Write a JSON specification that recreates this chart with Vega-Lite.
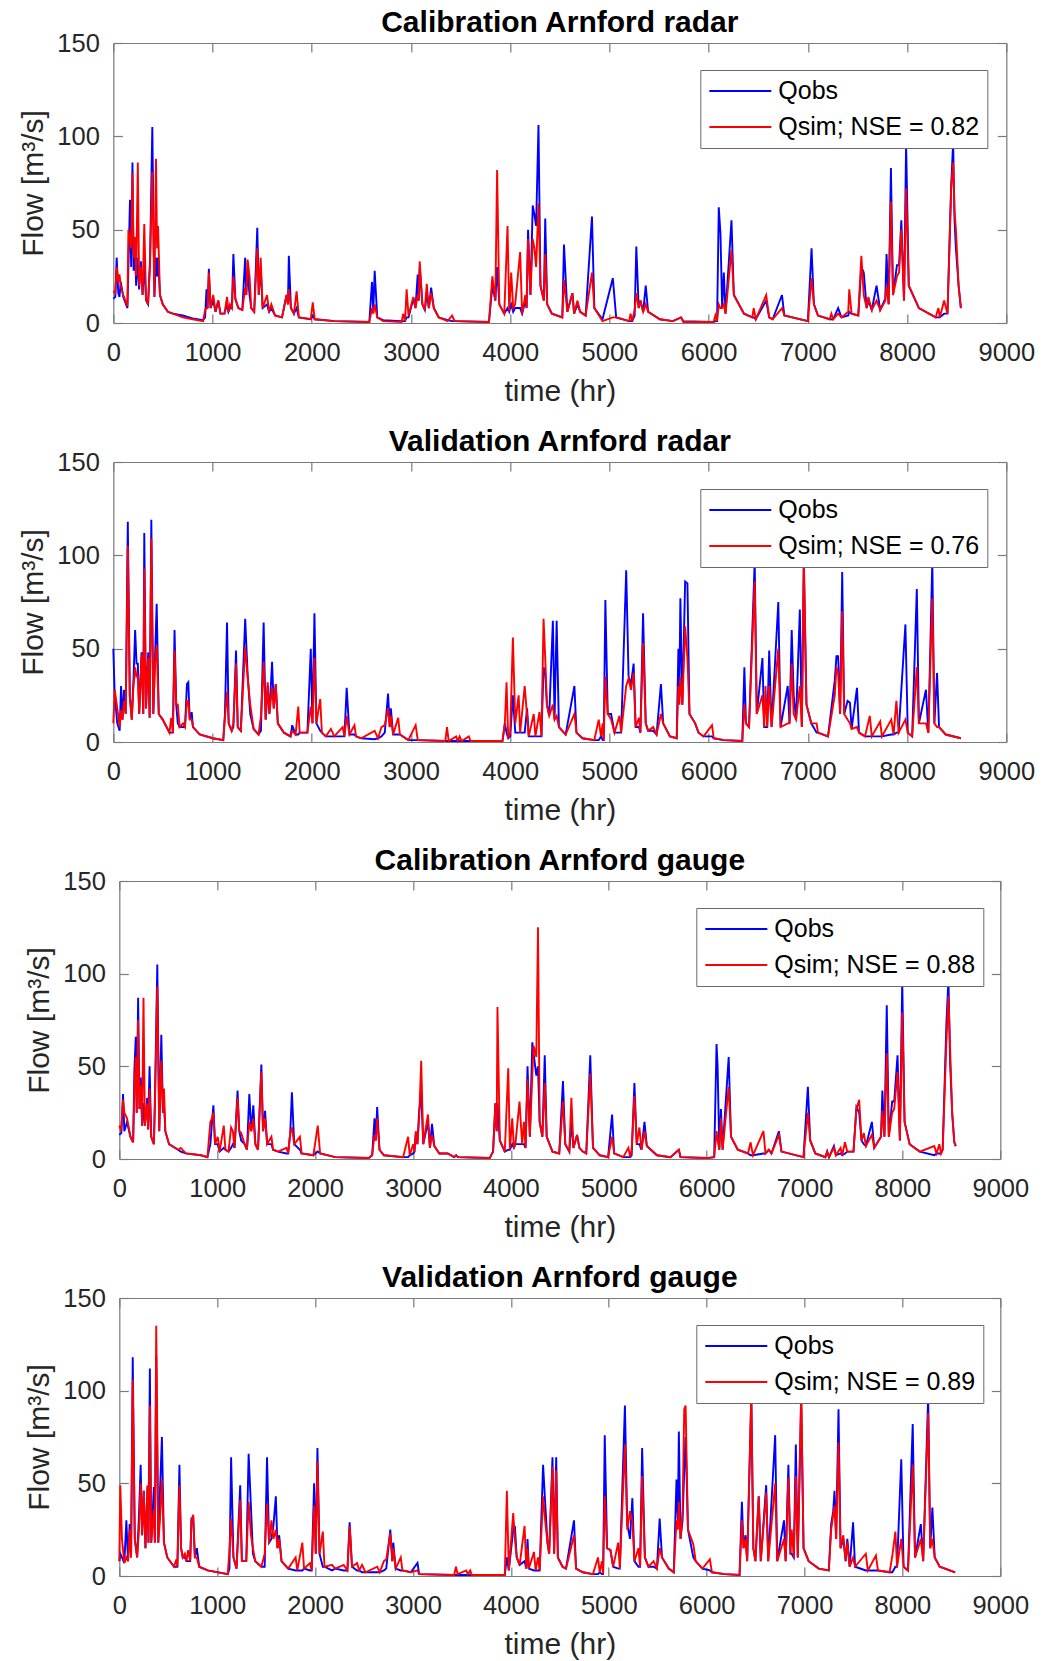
{
"$schema": "https://vega.github.io/schema/vega-lite/v6.json",
"padding": {"left": 18, "top": 8, "right": 5, "bottom": 5},
"spacing": 20,
"center": true,
"resolve": {"scale": {"color": "independent"}},
"datasets": {
"cr": [
{"t":0,"o":13,"s":17},{"t":20,"o":14,"s":16},{"t":34,"o":35,"s":30},{"t":50,"o":16,"s":22},{"t":62,"o":14,"s":26},{"t":75,"o":22,"s":20},{"t":100,"o":14,"s":15},{"t":142,"o":8,"s":9},{"t":152,"o":30,"s":50},{"t":168,"o":66,"s":45},{"t":180,"o":30,"s":40},{"t":193,"o":86,"s":80},{"t":205,"o":28,"s":35},{"t":217,"o":40,"s":46},{"t":230,"o":20,"s":25},{"t":247,"o":35,"s":86},{"t":260,"o":18,"s":20},{"t":278,"o":33,"s":30},{"t":295,"o":15,"s":15},{"t":312,"o":32,"s":53},{"t":330,"o":12,"s":13},{"t":350,"o":10,"s":10},{"t":370,"o":33,"s":32},{"t":393,"o":105,"s":81},{"t":414,"o":14,"s":14},{"t":430,"o":35,"s":88},{"t":441,"o":25,"s":40},{"t":451,"o":35,"s":52},{"t":470,"o":15,"s":15},{"t":498,"o":10,"s":10},{"t":550,"o":6,"s":6},{"t":600,"o":5,"s":5},{"t":700,"o":4,"s":3},{"t":800,"o":2.5,"s":2},{"t":905,"o":1.5,"s":1},{"t":925,"o":3,"s":7},{"t":939,"o":18,"s":8},{"t":950,"o":8,"s":8},{"t":963,"o":29,"s":27},{"t":980,"o":8,"s":8},{"t":1007,"o":12,"s":15},{"t":1030,"o":6,"s":6},{"t":1058,"o":12,"s":12},{"t":1080,"o":5,"s":5},{"t":1120,"o":5,"s":5},{"t":1146,"o":10,"s":14},{"t":1160,"o":6,"s":6},{"t":1176,"o":8,"s":10},{"t":1195,"o":8,"s":8},{"t":1210,"o":37,"s":25},{"t":1230,"o":13,"s":13},{"t":1260,"o":8,"s":8},{"t":1300,"o":7,"s":7},{"t":1329,"o":35,"s":19},{"t":1340,"o":15,"s":15},{"t":1353,"o":28,"s":34},{"t":1373,"o":15,"s":25},{"t":1390,"o":8,"s":8},{"t":1420,"o":6,"s":6},{"t":1451,"o":51,"s":40},{"t":1466,"o":15,"s":15},{"t":1485,"o":30,"s":35},{"t":1505,"o":8,"s":8},{"t":1549,"o":10,"s":15},{"t":1570,"o":6,"s":6},{"t":1593,"o":8,"s":10},{"t":1630,"o":4,"s":4},{"t":1700,"o":3,"s":3},{"t":1746,"o":15,"s":15},{"t":1760,"o":10,"s":10},{"t":1769,"o":36,"s":18},{"t":1790,"o":8,"s":8},{"t":1820,"o":5,"s":5},{"t":1847,"o":8,"s":17},{"t":1870,"o":3,"s":3},{"t":1990,"o":2,"s":2},{"t":2010,"o":4,"s":11},{"t":2030,"o":2,"s":2},{"t":2230,"o":1,"s":1},{"t":2580,"o":0.5,"s":0.5},{"t":2607,"o":22,"s":8},{"t":2620,"o":6,"s":5},{"t":2634,"o":28,"s":10},{"t":2660,"o":3,"s":3},{"t":2720,"o":1.5,"s":1},{"t":2905,"o":1,"s":0.5},{"t":2922,"o":1,"s":5},{"t":2940,"o":1,"s":1},{"t":2956,"o":3,"s":18},{"t":2975,"o":3,"s":4},{"t":3024,"o":13,"s":14},{"t":3045,"o":8,"s":8},{"t":3068,"o":26,"s":15},{"t":3078,"o":12,"s":12},{"t":3088,"o":30,"s":33},{"t":3115,"o":10,"s":10},{"t":3140,"o":7,"s":7},{"t":3159,"o":16,"s":21},{"t":3180,"o":8,"s":8},{"t":3203,"o":19,"s":16},{"t":3230,"o":8,"s":8},{"t":3280,"o":3,"s":3},{"t":3370,"o":1.5,"s":1},{"t":3414,"o":1,"s":4},{"t":3440,"o":1,"s":1},{"t":3786,"o":0.5,"s":0.5},{"t":3820,"o":20,"s":25},{"t":3850,"o":12,"s":12},{"t":3868,"o":30,"s":82},{"t":3890,"o":10,"s":10},{"t":3940,"o":5,"s":5},{"t":3973,"o":8,"s":52},{"t":3990,"o":6,"s":6},{"t":4010,"o":10,"s":27},{"t":4030,"o":6,"s":8},{"t":4050,"o":8,"s":10},{"t":4100,"o":8,"s":38},{"t":4120,"o":5,"s":5},{"t":4153,"o":12,"s":15},{"t":4165,"o":8,"s":8},{"t":4180,"o":50,"s":45},{"t":4204,"o":15,"s":15},{"t":4227,"o":63,"s":45},{"t":4244,"o":58,"s":40},{"t":4261,"o":52,"s":30},{"t":4285,"o":106,"s":64},{"t":4305,"o":20,"s":20},{"t":4339,"o":12,"s":12},{"t":4353,"o":56,"s":37},{"t":4373,"o":10,"s":10},{"t":4420,"o":5,"s":5},{"t":4525,"o":3,"s":3},{"t":4542,"o":42,"s":23},{"t":4576,"o":6,"s":6},{"t":4627,"o":16,"s":16},{"t":4644,"o":5,"s":5},{"t":4678,"o":10,"s":12},{"t":4705,"o":6,"s":6},{"t":4760,"o":4,"s":4},{"t":4824,"o":57,"s":27},{"t":4848,"o":8,"s":8},{"t":4930,"o":2,"s":1},{"t":5034,"o":24,"s":3},{"t":5068,"o":3,"s":3},{"t":5200,"o":1,"s":1},{"t":5213,"o":1,"s":5},{"t":5230,"o":1,"s":1},{"t":5254,"o":4,"s":7},{"t":5271,"o":41,"s":16},{"t":5295,"o":8,"s":8},{"t":5312,"o":12,"s":12},{"t":5340,"o":6,"s":6},{"t":5366,"o":20,"s":10},{"t":5390,"o":6,"s":6},{"t":5508,"o":2,"s":2},{"t":5640,"o":1,"s":1},{"t":5722,"o":3,"s":3},{"t":5745,"o":1,"s":0.5},{"t":6050,"o":0.5,"s":0.5},{"t":6068,"o":1,"s":4},{"t":6085,"o":1,"s":1},{"t":6102,"o":62,"s":10},{"t":6119,"o":48,"s":8},{"t":6136,"o":8,"s":8},{"t":6153,"o":27,"s":10},{"t":6170,"o":5,"s":5},{"t":6230,"o":55,"s":39},{"t":6254,"o":15,"s":15},{"t":6356,"o":5,"s":5},{"t":6440,"o":3,"s":3},{"t":6454,"o":3,"s":8},{"t":6475,"o":2,"s":2},{"t":6580,"o":12,"s":15},{"t":6610,"o":3,"s":3},{"t":6645,"o":2,"s":2},{"t":6739,"o":15,"s":8},{"t":6763,"o":4,"s":4},{"t":7000,"o":1,"s":1},{"t":7037,"o":40,"s":24},{"t":7061,"o":10,"s":10},{"t":7102,"o":4,"s":4},{"t":7220,"o":2,"s":2},{"t":7237,"o":2,"s":5},{"t":7255,"o":2,"s":2},{"t":7305,"o":8,"s":5},{"t":7339,"o":3,"s":3},{"t":7407,"o":4,"s":6},{"t":7417,"o":6,"s":18},{"t":7441,"o":5,"s":5},{"t":7508,"o":4,"s":4},{"t":7539,"o":30,"s":36},{"t":7563,"o":27,"s":15},{"t":7593,"o":8,"s":8},{"t":7610,"o":12,"s":14},{"t":7644,"o":7,"s":7},{"t":7692,"o":20,"s":12},{"t":7729,"o":7,"s":7},{"t":7780,"o":13,"s":12},{"t":7793,"o":37,"s":20},{"t":7814,"o":10,"s":10},{"t":7837,"o":83,"s":65},{"t":7858,"o":15,"s":15},{"t":7898,"o":31,"s":25},{"t":7919,"o":31,"s":27},{"t":7942,"o":55,"s":50},{"t":7969,"o":12,"s":12},{"t":7990,"o":96,"s":72},{"t":8017,"o":20,"s":20},{"t":8119,"o":8,"s":8},{"t":8288,"o":3,"s":3},{"t":8315,"o":3,"s":8},{"t":8330,"o":3,"s":3},{"t":8373,"o":5,"s":12},{"t":8407,"o":5,"s":5},{"t":8444,"o":73,"s":72},{"t":8464,"o":97,"s":86},{"t":8478,"o":55,"s":60},{"t":8492,"o":40,"s":50},{"t":8519,"o":20,"s":20},{"t":8542,"o":8,"s":8}
],
"vr": [
{"t":0,"o":50,"s":10},{"t":14,"o":25,"s":28},{"t":40,"o":10,"s":18},{"t":64,"o":6,"s":8},{"t":78,"o":30,"s":17},{"t":92,"o":12,"s":12},{"t":108,"o":28,"s":22},{"t":125,"o":15,"s":15},{"t":146,"o":118,"s":105},{"t":166,"o":25,"s":25},{"t":186,"o":12,"s":12},{"t":203,"o":33,"s":30},{"t":220,"o":60,"s":40},{"t":234,"o":42,"s":35},{"t":247,"o":42,"s":35},{"t":261,"o":15,"s":15},{"t":285,"o":48,"s":47},{"t":302,"o":15,"s":15},{"t":312,"o":112,"s":93},{"t":329,"o":18,"s":18},{"t":352,"o":48,"s":45},{"t":366,"o":13,"s":13},{"t":383,"o":119,"s":109},{"t":403,"o":15,"s":15},{"t":420,"o":45,"s":42},{"t":437,"o":74,"s":52},{"t":458,"o":15,"s":15},{"t":498,"o":12,"s":12},{"t":566,"o":5,"s":5},{"t":583,"o":5,"s":13},{"t":600,"o":5,"s":5},{"t":617,"o":60,"s":49},{"t":634,"o":20,"s":20},{"t":650,"o":10,"s":20},{"t":668,"o":8,"s":8},{"t":702,"o":8,"s":10},{"t":722,"o":8,"s":8},{"t":742,"o":31,"s":22},{"t":756,"o":32,"s":22},{"t":770,"o":12,"s":12},{"t":790,"o":16,"s":12},{"t":803,"o":8,"s":8},{"t":871,"o":4,"s":4},{"t":1003,"o":2,"s":2},{"t":1108,"o":1,"s":1},{"t":1125,"o":15,"s":13},{"t":1146,"o":64,"s":27},{"t":1163,"o":10,"s":10},{"t":1193,"o":6,"s":6},{"t":1210,"o":8,"s":10},{"t":1237,"o":49,"s":42},{"t":1254,"o":8,"s":8},{"t":1285,"o":6,"s":6},{"t":1329,"o":66,"s":51},{"t":1353,"o":37,"s":35},{"t":1380,"o":15,"s":20},{"t":1414,"o":7,"s":7},{"t":1464,"o":4,"s":4},{"t":1488,"o":6,"s":14},{"t":1515,"o":64,"s":43},{"t":1535,"o":12,"s":12},{"t":1556,"o":30,"s":32},{"t":1573,"o":15,"s":15},{"t":1600,"o":43,"s":29},{"t":1617,"o":18,"s":18},{"t":1637,"o":31,"s":31},{"t":1658,"o":10,"s":10},{"t":1719,"o":5,"s":5},{"t":1786,"o":3,"s":3},{"t":1803,"o":9,"s":6},{"t":1837,"o":4,"s":4},{"t":1864,"o":4,"s":19},{"t":1878,"o":5,"s":5},{"t":1956,"o":5,"s":5},{"t":1990,"o":50,"s":19},{"t":2007,"o":10,"s":10},{"t":2027,"o":69,"s":45},{"t":2047,"o":10,"s":10},{"t":2085,"o":6,"s":23},{"t":2102,"o":5,"s":5},{"t":2142,"o":3,"s":3},{"t":2193,"o":3,"s":7},{"t":2227,"o":3,"s":3},{"t":2312,"o":3,"s":8},{"t":2329,"o":3,"s":3},{"t":2352,"o":29,"s":14},{"t":2380,"o":4,"s":4},{"t":2430,"o":4,"s":9},{"t":2447,"o":3,"s":3},{"t":2498,"o":2,"s":2},{"t":2634,"o":1.5,"s":6},{"t":2668,"o":2,"s":2},{"t":2702,"o":3,"s":8},{"t":2736,"o":5,"s":9},{"t":2769,"o":26,"s":18},{"t":2786,"o":8,"s":8},{"t":2797,"o":18,"s":14},{"t":2820,"o":4,"s":4},{"t":2871,"o":4,"s":13},{"t":2888,"o":4,"s":4},{"t":2973,"o":1,"s":1},{"t":3047,"o":1,"s":9},{"t":3068,"o":1,"s":1},{"t":3346,"o":0.5,"s":0.5},{"t":3363,"o":0.5,"s":8},{"t":3380,"o":0.5,"s":0.5},{"t":3455,"o":0.5,"s":3},{"t":3470,"o":0.5,"s":0.5},{"t":3490,"o":0.5,"s":3},{"t":3510,"o":0.5,"s":0.5},{"t":3583,"o":0.5,"s":3},{"t":3600,"o":0.5,"s":0.5},{"t":3922,"o":0.5,"s":0.5},{"t":3946,"o":10,"s":10},{"t":3963,"o":5,"s":32},{"t":3980,"o":2,"s":2},{"t":4000,"o":3,"s":5},{"t":4027,"o":25,"s":56},{"t":4051,"o":5,"s":10},{"t":4085,"o":5,"s":25},{"t":4100,"o":5,"s":5},{"t":4146,"o":5,"s":30},{"t":4170,"o":18,"s":14},{"t":4187,"o":3,"s":3},{"t":4237,"o":3,"s":15},{"t":4254,"o":3,"s":3},{"t":4295,"o":3,"s":16},{"t":4315,"o":3,"s":3},{"t":4336,"o":40,"s":66},{"t":4353,"o":37,"s":45},{"t":4370,"o":20,"s":20},{"t":4393,"o":14,"s":14},{"t":4430,"o":65,"s":20},{"t":4447,"o":12,"s":12},{"t":4468,"o":65,"s":14},{"t":4491,"o":8,"s":8},{"t":4559,"o":4,"s":4},{"t":4647,"o":30,"s":15},{"t":4668,"o":5,"s":5},{"t":4729,"o":2,"s":2},{"t":4847,"o":1,"s":1},{"t":4892,"o":1,"s":12},{"t":4915,"o":3,"s":3},{"t":4932,"o":1,"s":10},{"t":4942,"o":1,"s":1},{"t":4959,"o":76,"s":35},{"t":4983,"o":15,"s":15},{"t":5017,"o":15,"s":12},{"t":5051,"o":5,"s":5},{"t":5101,"o":5,"s":14},{"t":5118,"o":5,"s":5},{"t":5169,"o":92,"s":30},{"t":5193,"o":35,"s":34},{"t":5217,"o":31,"s":28},{"t":5244,"o":42,"s":37},{"t":5264,"o":8,"s":8},{"t":5298,"o":8,"s":13},{"t":5312,"o":5,"s":5},{"t":5339,"o":69,"s":53},{"t":5366,"o":10,"s":10},{"t":5390,"o":6,"s":6},{"t":5441,"o":6,"s":8},{"t":5475,"o":4,"s":4},{"t":5519,"o":31,"s":15},{"t":5542,"o":10,"s":10},{"t":5610,"o":3,"s":3},{"t":5678,"o":2,"s":2},{"t":5695,"o":50,"s":30},{"t":5705,"o":30,"s":20},{"t":5715,"o":77,"s":35},{"t":5735,"o":20,"s":20},{"t":5763,"o":86,"s":62},{"t":5786,"o":85,"s":45},{"t":5807,"o":15,"s":15},{"t":5864,"o":10,"s":10},{"t":5898,"o":5,"s":5},{"t":5949,"o":3,"s":3},{"t":6034,"o":3,"s":9},{"t":6051,"o":2,"s":2},{"t":6153,"o":1,"s":1},{"t":6339,"o":0.5,"s":0.5},{"t":6360,"o":40,"s":20},{"t":6376,"o":10,"s":10},{"t":6407,"o":8,"s":8},{"t":6464,"o":97,"s":86},{"t":6485,"o":15,"s":15},{"t":6542,"o":45,"s":25},{"t":6560,"o":8,"s":8},{"t":6573,"o":8,"s":30},{"t":6590,"o":8,"s":8},{"t":6610,"o":49,"s":30},{"t":6634,"o":8,"s":8},{"t":6702,"o":75,"s":50},{"t":6725,"o":8,"s":8},{"t":6797,"o":30,"s":10},{"t":6815,"o":10,"s":10},{"t":6837,"o":60,"s":42},{"t":6857,"o":25,"s":15},{"t":6881,"o":12,"s":12},{"t":6919,"o":71,"s":30},{"t":6939,"o":8,"s":8},{"t":6959,"o":95,"s":100},{"t":6986,"o":20,"s":20},{"t":7034,"o":10,"s":10},{"t":7088,"o":5,"s":10},{"t":7102,"o":5,"s":5},{"t":7203,"o":3,"s":3},{"t":7271,"o":33,"s":25},{"t":7288,"o":46,"s":40},{"t":7305,"o":46,"s":37},{"t":7325,"o":15,"s":15},{"t":7346,"o":91,"s":70},{"t":7366,"o":15,"s":15},{"t":7400,"o":22,"s":12},{"t":7424,"o":21,"s":10},{"t":7441,"o":7,"s":7},{"t":7495,"o":29,"s":8},{"t":7515,"o":5,"s":5},{"t":7576,"o":3,"s":3},{"t":7624,"o":3,"s":14},{"t":7644,"o":3,"s":3},{"t":7729,"o":3,"s":11},{"t":7746,"o":3,"s":3},{"t":7841,"o":4,"s":12},{"t":7864,"o":4,"s":4},{"t":7892,"o":5,"s":22},{"t":7915,"o":5,"s":5},{"t":7983,"o":63,"s":12},{"t":8007,"o":5,"s":5},{"t":8051,"o":3,"s":3},{"t":8098,"o":82,"s":40},{"t":8119,"o":10,"s":10},{"t":8190,"o":28,"s":10},{"t":8214,"o":5,"s":5},{"t":8254,"o":97,"s":77},{"t":8275,"o":10,"s":10},{"t":8302,"o":37,"s":8},{"t":8322,"o":8,"s":8},{"t":8390,"o":4,"s":4},{"t":8542,"o":2,"s":2}
],
"cg": [
{"t":0,"o":13,"s":18},{"t":20,"o":14,"s":15},{"t":38,"o":35,"s":32},{"t":51,"o":15,"s":25},{"t":79,"o":20,"s":22},{"t":113,"o":12,"s":12},{"t":141,"o":9,"s":9},{"t":154,"o":48,"s":37},{"t":168,"o":66,"s":55},{"t":178,"o":25,"s":25},{"t":192,"o":87,"s":75},{"t":206,"o":27,"s":27},{"t":220,"o":44,"s":40},{"t":233,"o":18,"s":18},{"t":247,"o":30,"s":87},{"t":261,"o":18,"s":18},{"t":285,"o":33,"s":30},{"t":295,"o":16,"s":16},{"t":309,"o":50,"s":38},{"t":326,"o":12,"s":12},{"t":353,"o":8,"s":8},{"t":364,"o":33,"s":30},{"t":388,"o":105,"s":93},{"t":408,"o":15,"s":15},{"t":429,"o":67,"s":53},{"t":446,"o":25,"s":25},{"t":456,"o":30,"s":38},{"t":470,"o":15,"s":15},{"t":508,"o":8,"s":8},{"t":600,"o":5,"s":5},{"t":628,"o":4,"s":6},{"t":680,"o":3,"s":3},{"t":834,"o":2,"s":2},{"t":900,"o":1,"s":1},{"t":930,"o":8,"s":20},{"t":947,"o":20,"s":22},{"t":961,"o":29,"s":25},{"t":978,"o":8,"s":8},{"t":1005,"o":8,"s":12},{"t":1025,"o":4,"s":4},{"t":1067,"o":6,"s":18},{"t":1084,"o":5,"s":5},{"t":1115,"o":4,"s":4},{"t":1142,"o":6,"s":17},{"t":1160,"o":8,"s":15},{"t":1177,"o":6,"s":6},{"t":1208,"o":37,"s":33},{"t":1225,"o":15,"s":15},{"t":1245,"o":10,"s":14},{"t":1280,"o":8,"s":8},{"t":1304,"o":5,"s":5},{"t":1328,"o":35,"s":20},{"t":1348,"o":15,"s":15},{"t":1369,"o":29,"s":22},{"t":1390,"o":8,"s":8},{"t":1417,"o":5,"s":5},{"t":1451,"o":51,"s":47},{"t":1468,"o":15,"s":15},{"t":1489,"o":26,"s":22},{"t":1510,"o":8,"s":8},{"t":1554,"o":8,"s":12},{"t":1571,"o":5,"s":5},{"t":1622,"o":4,"s":4},{"t":1708,"o":3,"s":6},{"t":1725,"o":3,"s":3},{"t":1746,"o":14,"s":14},{"t":1763,"o":36,"s":17},{"t":1787,"o":8,"s":8},{"t":1845,"o":5,"s":12},{"t":1862,"o":3,"s":3},{"t":1982,"o":2,"s":2},{"t":2027,"o":4,"s":18},{"t":2051,"o":3,"s":3},{"t":2206,"o":1,"s":1},{"t":2549,"o":0.5,"s":0.5},{"t":2583,"o":2,"s":2},{"t":2607,"o":22,"s":13},{"t":2620,"o":10,"s":10},{"t":2634,"o":28,"s":22},{"t":2658,"o":5,"s":5},{"t":2703,"o":2,"s":2},{"t":2899,"o":1,"s":1},{"t":2950,"o":1,"s":12},{"t":2967,"o":2,"s":2},{"t":3002,"o":3,"s":8},{"t":3015,"o":4,"s":4},{"t":3029,"o":14,"s":15},{"t":3045,"o":8,"s":8},{"t":3063,"o":26,"s":22},{"t":3084,"o":35,"s":53},{"t":3105,"o":8,"s":8},{"t":3153,"o":20,"s":24},{"t":3173,"o":6,"s":6},{"t":3194,"o":19,"s":13},{"t":3218,"o":7,"s":7},{"t":3269,"o":3,"s":3},{"t":3355,"o":3,"s":3},{"t":3420,"o":1,"s":1},{"t":3441,"o":2,"s":2},{"t":3460,"o":1,"s":1},{"t":3784,"o":0.5,"s":0.5},{"t":3818,"o":4,"s":4},{"t":3842,"o":30,"s":30},{"t":3855,"o":15,"s":15},{"t":3863,"o":30,"s":82},{"t":3887,"o":10,"s":10},{"t":3938,"o":4,"s":4},{"t":3973,"o":5,"s":49},{"t":3990,"o":5,"s":5},{"t":4014,"o":8,"s":22},{"t":4031,"o":6,"s":6},{"t":4046,"o":8,"s":8},{"t":4088,"o":8,"s":31},{"t":4115,"o":8,"s":8},{"t":4133,"o":8,"s":20},{"t":4150,"o":6,"s":6},{"t":4170,"o":50,"s":43},{"t":4194,"o":12,"s":12},{"t":4219,"o":63,"s":45},{"t":4232,"o":57,"s":61},{"t":4260,"o":45,"s":55},{"t":4277,"o":50,"s":125},{"t":4294,"o":20,"s":20},{"t":4322,"o":12,"s":12},{"t":4346,"o":56,"s":41},{"t":4366,"o":12,"s":12},{"t":4425,"o":4,"s":4},{"t":4494,"o":3,"s":3},{"t":4532,"o":42,"s":31},{"t":4556,"o":8,"s":8},{"t":4597,"o":4,"s":4},{"t":4618,"o":20,"s":33},{"t":4639,"o":6,"s":6},{"t":4676,"o":13,"s":13},{"t":4700,"o":6,"s":6},{"t":4735,"o":4,"s":4},{"t":4770,"o":3,"s":3},{"t":4811,"o":56,"s":46},{"t":4839,"o":6,"s":6},{"t":4908,"o":2,"s":2},{"t":4993,"o":1,"s":1},{"t":5034,"o":24,"s":12},{"t":5055,"o":3,"s":3},{"t":5148,"o":1,"s":1},{"t":5200,"o":1,"s":6},{"t":5220,"o":1,"s":1},{"t":5234,"o":2,"s":5},{"t":5262,"o":41,"s":34},{"t":5286,"o":8,"s":8},{"t":5313,"o":8,"s":17},{"t":5334,"o":5,"s":5},{"t":5365,"o":20,"s":15},{"t":5389,"o":7,"s":7},{"t":5492,"o":2,"s":2},{"t":5630,"o":1,"s":1},{"t":5716,"o":5,"s":5},{"t":5733,"o":1,"s":1},{"t":6000,"o":0.5,"s":0.5},{"t":6077,"o":1,"s":1},{"t":6101,"o":62,"s":15},{"t":6112,"o":50,"s":10},{"t":6129,"o":5,"s":5},{"t":6146,"o":27,"s":22},{"t":6163,"o":5,"s":5},{"t":6225,"o":55,"s":39},{"t":6249,"o":12,"s":12},{"t":6318,"o":5,"s":5},{"t":6422,"o":3,"s":3},{"t":6449,"o":2,"s":9},{"t":6473,"o":2,"s":2},{"t":6580,"o":3,"s":15},{"t":6601,"o":3,"s":3},{"t":6635,"o":5,"s":5},{"t":6662,"o":3,"s":3},{"t":6738,"o":15,"s":13},{"t":6765,"o":4,"s":4},{"t":6989,"o":1,"s":1},{"t":7034,"o":39,"s":25},{"t":7058,"o":10,"s":10},{"t":7110,"o":3,"s":3},{"t":7213,"o":1,"s":1},{"t":7231,"o":4,"s":4},{"t":7250,"o":1,"s":1},{"t":7300,"o":7,"s":6},{"t":7320,"o":2,"s":2},{"t":7368,"o":3,"s":6},{"t":7385,"o":2,"s":2},{"t":7413,"o":3,"s":9},{"t":7437,"o":4,"s":4},{"t":7500,"o":4,"s":4},{"t":7530,"o":28,"s":27},{"t":7558,"o":25,"s":32},{"t":7582,"o":10,"s":10},{"t":7606,"o":8,"s":14},{"t":7627,"o":7,"s":7},{"t":7688,"o":20,"s":13},{"t":7712,"o":6,"s":6},{"t":7781,"o":12,"s":12},{"t":7795,"o":37,"s":26},{"t":7816,"o":12,"s":12},{"t":7840,"o":83,"s":57},{"t":7861,"o":12,"s":12},{"t":7895,"o":31,"s":25},{"t":7916,"o":31,"s":27},{"t":7950,"o":56,"s":47},{"t":7974,"o":10,"s":10},{"t":7998,"o":96,"s":79},{"t":8022,"o":20,"s":20},{"t":8074,"o":8,"s":8},{"t":8177,"o":4,"s":4},{"t":8325,"o":2,"s":7},{"t":8349,"o":3,"s":3},{"t":8377,"o":3,"s":8},{"t":8394,"o":3,"s":3},{"t":8411,"o":5,"s":5},{"t":8449,"o":73,"s":63},{"t":8470,"o":97,"s":88},{"t":8487,"o":52,"s":60},{"t":8508,"o":25,"s":25},{"t":8530,"o":9,"s":9},{"t":8545,"o":7,"s":7}
],
"vg": [
{"t":0,"o":8,"s":8},{"t":10,"o":12,"s":49},{"t":27,"o":10,"s":20},{"t":51,"o":7,"s":7},{"t":72,"o":30,"s":10},{"t":89,"o":8,"s":8},{"t":106,"o":28,"s":25},{"t":120,"o":10,"s":10},{"t":137,"o":118,"s":106},{"t":158,"o":20,"s":20},{"t":182,"o":10,"s":10},{"t":201,"o":33,"s":25},{"t":218,"o":60,"s":50},{"t":233,"o":22,"s":22},{"t":250,"o":46,"s":46},{"t":267,"o":15,"s":15},{"t":288,"o":48,"s":49},{"t":298,"o":18,"s":18},{"t":312,"o":112,"s":92},{"t":326,"o":18,"s":18},{"t":353,"o":48,"s":36},{"t":363,"o":18,"s":18},{"t":377,"o":119,"s":135},{"t":398,"o":18,"s":18},{"t":415,"o":45,"s":30},{"t":435,"o":75,"s":52},{"t":456,"o":18,"s":18},{"t":490,"o":10,"s":10},{"t":559,"o":5,"s":5},{"t":583,"o":5,"s":9},{"t":593,"o":5,"s":5},{"t":614,"o":60,"s":49},{"t":631,"o":15,"s":15},{"t":648,"o":10,"s":10},{"t":669,"o":10,"s":12},{"t":686,"o":8,"s":8},{"t":703,"o":8,"s":14},{"t":724,"o":8,"s":8},{"t":737,"o":31,"s":30},{"t":755,"o":31,"s":33},{"t":772,"o":10,"s":10},{"t":792,"o":15,"s":10},{"t":816,"o":5,"s":5},{"t":902,"o":3,"s":3},{"t":1108,"o":1,"s":1},{"t":1125,"o":4,"s":14},{"t":1142,"o":64,"s":31},{"t":1166,"o":10,"s":10},{"t":1197,"o":4,"s":4},{"t":1235,"o":49,"s":41},{"t":1252,"o":8,"s":8},{"t":1297,"o":8,"s":8},{"t":1321,"o":66,"s":40},{"t":1345,"o":37,"s":22},{"t":1365,"o":12,"s":15},{"t":1389,"o":8,"s":8},{"t":1451,"o":5,"s":5},{"t":1485,"o":5,"s":12},{"t":1509,"o":64,"s":39},{"t":1530,"o":18,"s":18},{"t":1554,"o":20,"s":30},{"t":1574,"o":27,"s":20},{"t":1599,"o":43,"s":25},{"t":1616,"o":15,"s":15},{"t":1633,"o":22,"s":20},{"t":1657,"o":8,"s":8},{"t":1725,"o":4,"s":4},{"t":1801,"o":3,"s":10},{"t":1818,"o":3,"s":3},{"t":1870,"o":3,"s":18},{"t":1887,"o":4,"s":4},{"t":1948,"o":3,"s":7},{"t":1965,"o":3,"s":3},{"t":1990,"o":50,"s":38},{"t":2007,"o":12,"s":12},{"t":2024,"o":69,"s":62},{"t":2045,"o":12,"s":12},{"t":2079,"o":5,"s":24},{"t":2096,"o":5,"s":5},{"t":2172,"o":3,"s":6},{"t":2206,"o":4,"s":4},{"t":2292,"o":3,"s":6},{"t":2330,"o":3,"s":3},{"t":2353,"o":29,"s":27},{"t":2377,"o":5,"s":5},{"t":2429,"o":3,"s":7},{"t":2450,"o":3,"s":3},{"t":2480,"o":2,"s":6},{"t":2515,"o":2,"s":2},{"t":2635,"o":2,"s":5},{"t":2660,"o":2,"s":2},{"t":2703,"o":3,"s":8},{"t":2727,"o":4,"s":9},{"t":2768,"o":25,"s":23},{"t":2789,"o":8,"s":8},{"t":2799,"o":18,"s":15},{"t":2823,"o":4,"s":4},{"t":2875,"o":3,"s":10},{"t":2892,"o":3,"s":3},{"t":2978,"o":2,"s":2},{"t":3046,"o":7,"s":3},{"t":3063,"o":1,"s":1},{"t":3420,"o":0.5,"s":0.5},{"t":3439,"o":0.5,"s":5},{"t":3456,"o":0.5,"s":1},{"t":3544,"o":0.5,"s":3},{"t":3560,"o":0.5,"s":1},{"t":3585,"o":0.5,"s":3},{"t":3600,"o":0.5,"s":0.5},{"t":3938,"o":0.5,"s":0.5},{"t":3959,"o":10,"s":46},{"t":3979,"o":3,"s":3},{"t":4024,"o":25,"s":34},{"t":4041,"o":27,"s":20},{"t":4060,"o":10,"s":10},{"t":4090,"o":6,"s":6},{"t":4140,"o":8,"s":27},{"t":4158,"o":4,"s":4},{"t":4170,"o":20,"s":15},{"t":4184,"o":4,"s":4},{"t":4236,"o":3,"s":13},{"t":4253,"o":3,"s":3},{"t":4277,"o":3,"s":10},{"t":4294,"o":3,"s":3},{"t":4329,"o":60,"s":43},{"t":4350,"o":40,"s":30},{"t":4374,"o":18,"s":18},{"t":4391,"o":12,"s":12},{"t":4425,"o":64,"s":59},{"t":4442,"o":12,"s":12},{"t":4463,"o":64,"s":57},{"t":4480,"o":10,"s":10},{"t":4528,"o":5,"s":5},{"t":4563,"o":4,"s":4},{"t":4645,"o":30,"s":22},{"t":4666,"o":4,"s":4},{"t":4735,"o":2,"s":2},{"t":4838,"o":1,"s":1},{"t":4890,"o":1,"s":10},{"t":4907,"o":2,"s":2},{"t":4931,"o":1,"s":8},{"t":4942,"o":1,"s":1},{"t":4959,"o":76,"s":43},{"t":4983,"o":15,"s":15},{"t":5017,"o":14,"s":14},{"t":5045,"o":5,"s":5},{"t":5096,"o":4,"s":18},{"t":5113,"o":4,"s":4},{"t":5165,"o":92,"s":71},{"t":5189,"o":28,"s":25},{"t":5217,"o":20,"s":35},{"t":5241,"o":42,"s":30},{"t":5262,"o":8,"s":8},{"t":5303,"o":5,"s":15},{"t":5320,"o":5,"s":5},{"t":5341,"o":69,"s":54},{"t":5369,"o":10,"s":10},{"t":5406,"o":5,"s":5},{"t":5458,"o":5,"s":8},{"t":5492,"o":4,"s":4},{"t":5520,"o":31,"s":15},{"t":5544,"o":10,"s":10},{"t":5613,"o":4,"s":4},{"t":5664,"o":2,"s":2},{"t":5692,"o":52,"s":30},{"t":5706,"o":30,"s":25},{"t":5716,"o":78,"s":40},{"t":5733,"o":20,"s":20},{"t":5754,"o":30,"s":35},{"t":5771,"o":57,"s":90},{"t":5785,"o":75,"s":92},{"t":5809,"o":25,"s":25},{"t":5864,"o":10,"s":17},{"t":5888,"o":8,"s":8},{"t":5957,"o":4,"s":4},{"t":6033,"o":3,"s":9},{"t":6054,"o":2,"s":2},{"t":6182,"o":1,"s":1},{"t":6336,"o":0.5,"s":0.5},{"t":6360,"o":40,"s":30},{"t":6377,"o":15,"s":15},{"t":6397,"o":22,"s":20},{"t":6414,"o":8,"s":8},{"t":6456,"o":97,"s":97},{"t":6477,"o":15,"s":15},{"t":6498,"o":8,"s":8},{"t":6532,"o":43,"s":43},{"t":6553,"o":8,"s":8},{"t":6608,"o":49,"s":45},{"t":6629,"o":8,"s":8},{"t":6700,"o":76,"s":50},{"t":6721,"o":8,"s":8},{"t":6790,"o":30,"s":20},{"t":6807,"o":8,"s":8},{"t":6835,"o":60,"s":53},{"t":6856,"o":12,"s":12},{"t":6869,"o":12,"s":25},{"t":6890,"o":10,"s":10},{"t":6911,"o":71,"s":54},{"t":6931,"o":10,"s":10},{"t":6966,"o":95,"s":100},{"t":6990,"o":15,"s":15},{"t":7042,"o":8,"s":8},{"t":7145,"o":4,"s":4},{"t":7248,"o":3,"s":3},{"t":7272,"o":28,"s":25},{"t":7293,"o":35,"s":33},{"t":7306,"o":46,"s":38},{"t":7323,"o":20,"s":20},{"t":7347,"o":90,"s":72},{"t":7368,"o":15,"s":15},{"t":7396,"o":20,"s":22},{"t":7420,"o":8,"s":8},{"t":7437,"o":20,"s":18},{"t":7461,"o":5,"s":5},{"t":7496,"o":29,"s":10},{"t":7516,"o":5,"s":5},{"t":7626,"o":3,"s":12},{"t":7647,"o":3,"s":3},{"t":7729,"o":3,"s":11},{"t":7750,"o":3,"s":3},{"t":7869,"o":2,"s":2},{"t":7897,"o":2,"s":11},{"t":7928,"o":5,"s":24},{"t":7945,"o":5,"s":5},{"t":7988,"o":63,"s":20},{"t":8012,"o":5,"s":5},{"t":8057,"o":3,"s":3},{"t":8105,"o":82,"s":60},{"t":8129,"o":10,"s":10},{"t":8188,"o":28,"s":20},{"t":8212,"o":8,"s":8},{"t":8263,"o":97,"s":88},{"t":8284,"o":15,"s":15},{"t":8306,"o":37,"s":20},{"t":8330,"o":10,"s":10},{"t":8381,"o":5,"s":5},{"t":8539,"o":2,"s":2}
]
},
"vconcat": [
{
"width": 893, "height": 280,
"data": {"name": "cr"},
"title": "Calibration Arnford radar",
"layer": [
{"mark": {"type": "line"},
 "encoding": {
  "x": {"field": "t", "type": "quantitative", "scale": {"domain": [0, 9000], "nice": false}, "axis": {"orient": "bottom", "values": [0,1000,2000,3000,4000,5000,6000,7000,8000,9000], "title": "time (hr)"}},
  "y": {"field": "o", "type": "quantitative", "scale": {"domain": [0, 150], "nice": false}, "axis": {"orient": "left", "values": [0,50,100,150], "title": "Flow [m³/s]"}},
  "color": {"datum": "Qobs", "type": "nominal", "scale": {"domain": ["Qobs", "Qsim; NSE = 0.82"], "range": ["#0000ff", "#ff0000"]}, "legend": {"orient": "none", "legendX": 587, "legendY": 27}}
 }},
{"mark": {"type": "line"},
 "encoding": {
  "x": {"field": "t", "type": "quantitative", "axis": {"orient": "top", "values": [0,1000,2000,3000,4000,5000,6000,7000,8000,9000], "labels": false, "title": null}},
  "y": {"field": "s", "type": "quantitative", "axis": {"orient": "right", "values": [0,50,100,150], "labels": false, "title": null}},
  "color": {"datum": "Qsim; NSE = 0.82", "type": "nominal"}
 }}
],
"resolve": {"axis": {"x": "independent", "y": "independent"}}
},
{
"width": 893, "height": 280,
"data": {"name": "vr"},
"title": "Validation Arnford radar",
"layer": [
{"mark": {"type": "line"},
 "encoding": {
  "x": {"field": "t", "type": "quantitative", "scale": {"domain": [0, 9000], "nice": false}, "axis": {"orient": "bottom", "values": [0,1000,2000,3000,4000,5000,6000,7000,8000,9000], "title": "time (hr)"}},
  "y": {"field": "o", "type": "quantitative", "scale": {"domain": [0, 150], "nice": false}, "axis": {"orient": "left", "values": [0,50,100,150], "title": "Flow [m³/s]"}},
  "color": {"datum": "Qobs", "type": "nominal", "scale": {"domain": ["Qobs", "Qsim; NSE = 0.76"], "range": ["#0000ff", "#ff0000"]}, "legend": {"orient": "none", "legendX": 587, "legendY": 27}}
 }},
{"mark": {"type": "line"},
 "encoding": {
  "x": {"field": "t", "type": "quantitative", "axis": {"orient": "top", "values": [0,1000,2000,3000,4000,5000,6000,7000,8000,9000], "labels": false, "title": null}},
  "y": {"field": "s", "type": "quantitative", "axis": {"orient": "right", "values": [0,50,100,150], "labels": false, "title": null}},
  "color": {"datum": "Qsim; NSE = 0.76", "type": "nominal"}
 }}
],
"resolve": {"axis": {"x": "independent", "y": "independent"}}
},
{
"width": 881, "height": 278,
"data": {"name": "cg"},
"title": "Calibration Arnford gauge",
"layer": [
{"mark": {"type": "line"},
 "encoding": {
  "x": {"field": "t", "type": "quantitative", "scale": {"domain": [0, 9000], "nice": false}, "axis": {"orient": "bottom", "values": [0,1000,2000,3000,4000,5000,6000,7000,8000,9000], "title": "time (hr)"}},
  "y": {"field": "o", "type": "quantitative", "scale": {"domain": [0, 150], "nice": false}, "axis": {"orient": "left", "values": [0,50,100,150], "title": "Flow [m³/s]"}},
  "color": {"datum": "Qobs", "type": "nominal", "scale": {"domain": ["Qobs", "Qsim; NSE = 0.88"], "range": ["#0000ff", "#ff0000"]}, "legend": {"orient": "none", "legendX": 577, "legendY": 27}}
 }},
{"mark": {"type": "line"},
 "encoding": {
  "x": {"field": "t", "type": "quantitative", "axis": {"orient": "top", "values": [0,1000,2000,3000,4000,5000,6000,7000,8000,9000], "labels": false, "title": null}},
  "y": {"field": "s", "type": "quantitative", "axis": {"orient": "right", "values": [0,50,100,150], "labels": false, "title": null}},
  "color": {"datum": "Qsim; NSE = 0.88", "type": "nominal"}
 }}
],
"resolve": {"axis": {"x": "independent", "y": "independent"}}
},
{
"width": 881, "height": 278,
"data": {"name": "vg"},
"title": "Validation Arnford gauge",
"layer": [
{"mark": {"type": "line"},
 "encoding": {
  "x": {"field": "t", "type": "quantitative", "scale": {"domain": [0, 9000], "nice": false}, "axis": {"orient": "bottom", "values": [0,1000,2000,3000,4000,5000,6000,7000,8000,9000], "title": "time (hr)"}},
  "y": {"field": "o", "type": "quantitative", "scale": {"domain": [0, 150], "nice": false}, "axis": {"orient": "left", "values": [0,50,100,150], "title": "Flow [m³/s]"}},
  "color": {"datum": "Qobs", "type": "nominal", "scale": {"domain": ["Qobs", "Qsim; NSE = 0.89"], "range": ["#0000ff", "#ff0000"]}, "legend": {"orient": "none", "legendX": 577, "legendY": 27}}
 }},
{"mark": {"type": "line"},
 "encoding": {
  "x": {"field": "t", "type": "quantitative", "axis": {"orient": "top", "values": [0,1000,2000,3000,4000,5000,6000,7000,8000,9000], "labels": false, "title": null}},
  "y": {"field": "s", "type": "quantitative", "axis": {"orient": "right", "values": [0,50,100,150], "labels": false, "title": null}},
  "color": {"datum": "Qsim; NSE = 0.89", "type": "nominal"}
 }}
],
"resolve": {"axis": {"x": "independent", "y": "independent"}}
}
],
"config": {
 "font": "Liberation Sans",
 "view": {"stroke": null},
 "line": {"strokeWidth": 1.9},
 "title": {"fontSize": 30, "fontWeight": "bold", "color": "#000000", "frame": "group", "anchor": "middle", "baseline": "alphabetic", "offset": -7},
 "axis": {"grid": false, "domainColor": "#7a7a7a", "domainWidth": 1.2, "tickColor": "#7a7a7a", "tickSize": -9, "tickWidth": 1.2, "labelFontSize": 25.5, "labelColor": "#262626", "labelPadding": 23, "labelFlush": false, "labelOverlap": false, "titleFontSize": 30, "titleFontWeight": "normal", "titleColor": "#262626", "titlePadding": 8, "format": "d"},
 "axisBottom": {"labelPadding": 26, "titlePadding": 11},
 "legend": {"title": null, "symbolType": "M-1,0H4.1667", "symbolSize": 576, "symbolStrokeWidth": 1.5, "labelFontSize": 25, "labelColor": "#000000", "labelLimit": 400, "labelOffset": 44, "padding": 8, "rowPadding": 10, "strokeColor": "#6a6a6a", "fillColor": "#ffffff", "cornerRadius": 0}
}
}
